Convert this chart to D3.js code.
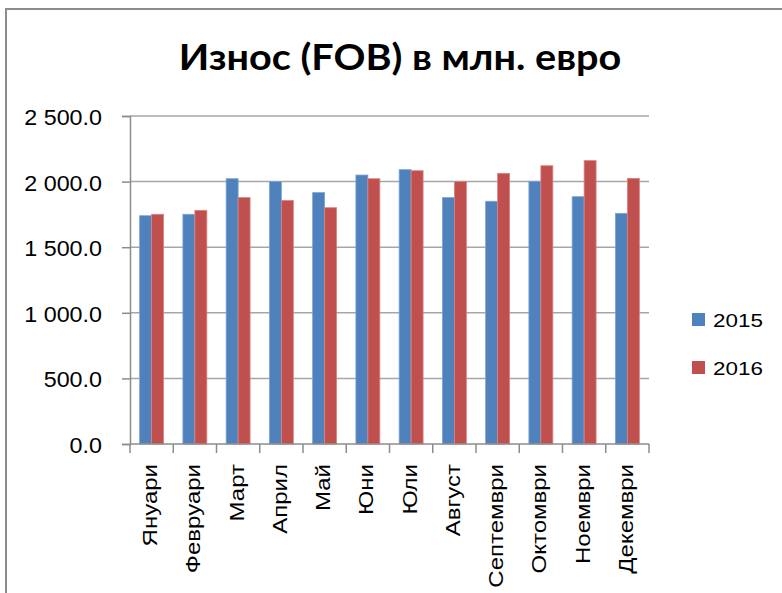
<!DOCTYPE html>
<html>
<head>
<meta charset="utf-8">
<script src="https://cdn.jsdelivr.net/npm/d3@7"></script>
<style>
  body { margin: 0; background: #fff; }
</style>
</head>
<body>
<div id="chart"></div>
<script>
// months and export values (mln. EUR)
var months = ["Януари", "Февруари", "Март", "Април", "Май", "Юни", "Юли", "Август", "Септември", "Октомври", "Ноември", "Декември"];
var years = ["2015", "2016"];
var values2015 = [1740, 1751, 2022, 2000, 1916, 2050, 2091, 1878, 1850, 2002, 1885, 1758];
var values2016 = [1751, 1781, 1878, 1857, 1801, 2022, 2083, 2000, 2063, 2121, 2160, 2025];
var yTicks = [0, 500, 1000, 1500, 2000, 2500];
var colors = ["#4F81BD", "#C0504D"];
var edgeColors = ["#7FA4D3", "#D98583"];

var width = 782, height = 593;
var plotLeft = 130, plotRight = 649, plotTop = 116, plotBottom = 444;

var svg = d3.select("#chart").append("svg")
  .attr("width", width)
  .attr("height", height);

// outer frame
svg.append("rect")
  .attr("x", 6).attr("y", 9)
  .attr("width", 800).attr("height", 600)
  .attr("fill", "#fff")
  .attr("stroke", "#8c8c8c")
  .attr("stroke-width", 2);

svg.append("text")
  .text("Износ (FOB) в млн. евро")
  .attr("text-anchor", "middle")
  .attr("transform", "translate(400,70) scale(1.07,1)")
  .style("font-family", "Lato, 'Open Sans', sans-serif")
  .style("font-weight", "bold")
  .style("font-size", "37px")
  .attr("fill", "#000");

var x = d3.scaleBand().domain(months).range([plotLeft, plotRight]).paddingInner(0).paddingOuter(0);
var y = d3.scaleLinear().domain([0, 2500]).range([plotBottom, plotTop]);

// gridlines
svg.append("g")
  .selectAll("line")
  .data(yTicks.slice(1))
  .enter()
  .append("line")
  .attr("x1", plotLeft).attr("x2", plotRight)
  .attr("y1", function(d) { return y(d); })
  .attr("y2", function(d) { return y(d); })
  .attr("stroke", "#a6a6a6")
  .attr("stroke-width", 1.5);

// y axis
var fmt = d3.format(",.1f");
var yAxis = svg.append("g")
  .attr("transform", "translate(" + plotLeft + ",0)")
  .call(d3.axisLeft(y).tickValues(yTicks).tickSize(8).tickPadding(0)
    .tickFormat(function(d) { return fmt(d).replace(/,/g, " "); }));
yAxis.select(".domain").attr("stroke", "#8c8c8c").attr("stroke-width", 1.5);
yAxis.selectAll(".tick line").attr("stroke", "#8c8c8c").attr("stroke-width", 1.5);
yAxis.selectAll(".tick text")
  .attr("x", null)
  .attr("dy", null)
  .attr("transform", "translate(-28,8.5) scale(1.06,1)")
  .style("font-family", "'Liberation Sans', Arial, sans-serif")
  .style("font-size", "22px")
  .attr("fill", "#000");

// bars
var barW = x.bandwidth() * 0.277;
var series = [values2015, values2016];
series.forEach(function(vals, s) {
  svg.append("g")
    .selectAll("rect")
    .data(vals)
    .enter()
    .append("rect")
    .attr("x", function(d, i) { return x(months[i]) + x.bandwidth() / 2 + (s - 1) * barW; })
    .attr("y", function(d) { return y(d); })
    .attr("width", barW)
    .attr("height", function(d) { return y(0) - y(d); })
    .attr("fill", colors[s])
    .attr("stroke", edgeColors[s])
    .attr("stroke-width", 0.8);
});

// x axis line and category boundary ticks
svg.append("line")
  .attr("x1", plotLeft).attr("x2", plotRight)
  .attr("y1", y(0)).attr("y2", y(0))
  .attr("stroke", "#8c8c8c").attr("stroke-width", 1.5);

var bounds = months.map(function(m) { return x(m); }).concat([plotRight]);
svg.append("g")
  .selectAll("line")
  .data(bounds)
  .enter()
  .append("line")
  .attr("x1", function(d) { return d; })
  .attr("x2", function(d) { return d; })
  .attr("y1", y(0)).attr("y2", y(0) + 9)
  .attr("stroke", "#8c8c8c").attr("stroke-width", 1.5);

svg.append("g")
  .selectAll("text")
  .data(months)
  .enter()
  .append("text")
  .text(function(d) { return d; })
  .attr("text-anchor", "end")
  .attr("transform", function(d) {
    return "translate(" + (x(d) + x.bandwidth() / 2 + 5.5) + ",464) rotate(-90) scale(1.2,1)";
  })
  .style("font-family", "'Liberation Sans', Arial, sans-serif")
  .style("font-size", "20px")
  .attr("fill", "#000");

// legend
var legend = svg.append("g")
  .selectAll("g")
  .data(years)
  .enter()
  .append("g")
  .attr("transform", function(d, i) { return "translate(692," + (313 + i * 48) + ")"; });

legend.append("rect")
  .attr("width", 13).attr("height", 13)
  .attr("fill", function(d, i) { return colors[i]; });

legend.append("text")
  .text(function(d) { return d; })
  .attr("transform", "translate(21,14) scale(1.18,1)")
  .style("font-family", "'Liberation Sans', Arial, sans-serif")
  .style("font-size", "19px")
  .attr("fill", "#000");
</script>
</body>
</html>
